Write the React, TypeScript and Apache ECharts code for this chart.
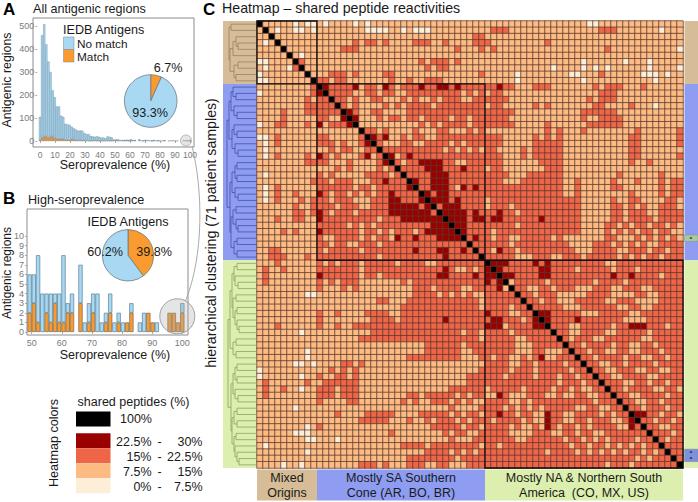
import React, { useEffect, useRef } from "react";
import * as echarts from "echarts";

const FONT = "Liberation Sans";

// Panel A: histogram by seroprevalence bin (k/71 of the patients)
const allTotal = [105,460,508,420,345,300,220,190,150,150,110,105,75,72,70,62,55,50,45,45,45,35,30,30,22,20,18,20,18,15,15,12,20,18,15,6,6,8,4,4,4,4,4,8,3,4,0,7,1,3,4,4,1,2,4,1,2,1,1,3,0,1,2,2,1,1,0,0,2,2,1,3];
const allMatch = [5,15,20,20,15,20,20,12,8,8,8,8,6,5,3,8,6,3,2,3,1,3,2,1,1,1,2,1,1,1,1,1,2,1,1,2,3,1,0,2,1,3,1,1,2,2,0,3,0,1,2,0,0,1,2,0,1,0,1,2,0,0,0,2,1,0,0,0,2,2,1,2];
const highFirstBin = 35;
const pieA = [{ name: "Match", value: 6.7 }, { name: "No match", value: 93.3 }];
const pieB = [{ name: "Match", value: 39.8 }, { name: "No match", value: 60.2 }];

// Panel C: shared-peptide class per sample pair, listed as column runs per row
const redRuns = [
"", "39-41,57-59", "36,37", "16,18,19,21,26-28,31,36-38,48", "14-16,33,37,39,58", "", "7,27,29-31,33", "28,30,31", "12-14,16,21,22,37,57", "10,11,13,14,22,25,28-30",
"12-15,18,19,22,24-26,28,29,32,34-39,41,46-48,56,58-60,64",
"12-15,18,19,21,22,25-33,35,37,39,40,57-59",
"13,14,16,19,20,24,26,29,31-33,36-41,55,57-59",
"14,16,21,23,25-28,30-37,39,40,46,48,56,57,62",
"16,19,20,25-37,39-42,54,56-59",
"20,22,23,25,26,28-31,33,34,36-41,54,58-60",
"27,29,31-34,36-42,48,55-60",
"18,19,21,26,30,31,35,37,48,50,54,70",
"20,24,26,27,30-40,46,48,50,62,63,70",
"20,24,25,28-31,33,35-40,46,48-50,62,63,70",
"21-30,32,34,36,38,39,44,46-50,62,63",
"24,26-40,44,46-50,62,63,70",
"23,25,26,31,32,35-39,47-50,62,65",
"24-27,31-33,35-37,39,40,48-50",
"25-28,32-41,45-50,60,67",
"27,28,32-40,44-50,53,59,63,69,70",
"27,28,32,35,37-39,41,42,45-50,53,59,60,67,70",
"29,32-37,40-43,45-50,53,62,67,69,70",
"32,34-37,41-53,59,62,63,68,69",
"30,34-37,43-53,59,60,62,64,67,68",
"35,37-39,41,44-53,59,60,62-64,67-70",
"35,38,41-53,59,60,62,63,65,67-70",
"33-42,45,47-51,58,59,61,63,64,66,67,69",
"34-38,40-42,45,47,48,50,58,60,62,64,65,67,68",
"35,37", "36,37", "37", "",
"3,12,14,15,18,19,22,24-27,30,31,34-37,42-45,47,49-57,60-70",
"1,4,10-16,18,19,21-30,35,37,41-46,49-52,54-58,60-62,64-70",
"1,10-16,18,19,21-29,32-37,43-46,49-58,60,61,63-66,68-70",
"1,10,12,14-16,24,26,28-32,34-37,43-47,49-55,57-60,62-70",
"10,14,26,27,30,31,36,37,43,44,47,48,50-52,56-58,61-63,66-70",
"26,27,31,33,35,44,45,47-49,55-58,63,64,67-70",
"21,25-36,45,46,48,49,53-57,60-62,67-70",
"24-26,28-36,46-50,54-59,62,63,66-70",
"10,13,18-21,24-38,49-53,57-61,64-70",
"10,19,24-37,49-52,54-60,65-70",
"3,10,13,16-19,22,24-37,49-51,54-58,60,61,65-67,69,70",
"19-22,24-33,35,36,50,51,54-57,60-64,66-70",
"17-36,51,53-55,58-63,66-70",
"28-33,35-37,52,53,55-58,60,61,64,65,67-70",
"28-33,36,37,53,54,56,57,60,61,64-66,68-70",
"25,26,28-33,37,54,55,57-60,62,63,66,67,69,70",
"14,15,17,55,56,59,60,62-65,67-70",
"12,14,37,56,57,60-62,65,66,69,70",
"10,13,14,16,35-37,57,58,61-64,67-70",
"8,11-16,35-37,58-60,63,64,66,67,69,70",
"1,4,10-12,14-16,32-37,59,60,62-65,68,69",
"1,10-12,14-16,25,26,29-32,34,36,37,60,61,64-67,69,70",
"10,15,16,24,26,29-31,35,61,62,65,66,68-70",
"37,62,63,65-67,69,70",
"13,18,19,21,22,27,28,30,31,35,36,65,66,68,69",
"17-19,21,25,28,30,31,34,36,37,64,65,67,68,70",
"10,30,31,35,36,65,66,69,70",
"22,34,37,66-68,70",
"36,37,67,69,70",
"24,25,27,30,34-36,68-70",
"29,35,37,69,70",
"25,26,28-31,34-37,70",
"17-19,21,25,31,35-37",
];
const darkRows = [10,14,15,18,21,22,23,24,25,26,27,28,29,30,31,32,33,34,36,38,39,40,46,47,48,62];
const darkRuns = ["11,16,21,27,30,31,33,40","15","16","19,21","22,25","27-30","28-30,34","29-31","26,29-31","29-31,34,36","28,30,31","29-31,33","31-33","31-34,36,40","32-34,36,37,39,40,47","33,34","34","36","40","39-41,46,48","40,47,48","41,42,47,48,59,62","47,48","48,53","62-64","63,64"];
const paleRows = [0,1,4,5,6,7,8,9,13];
const paleRuns = ["6,8,9,11,16,18,55,56","3,6,7,9,18-21,24,26-28,67","70","7","54,61,65","5,49,54,56,58,65,70","43,52,53,64-66,68","43,54,66","66"];

const sampleCount = 71;
const clusterEnds = [0, 10, 38, 71];
const classColors = ["#fdeed8", "#fdbb84", "#ef6548", "#990000", "#000000"];
const clusterFill = ["#d6bd97", "#8e9df2", "#dcefae"];
const clusterLine = ["#8f7a58", "#3a4799", "#7f9a58"];
const clusterNames = [["Mixed", "Origins"], ["Mostly SA Southern", "Cone (AR, BO, BR)"], ["Mostly NA & Northern South", "America  (CO, MX, US)"]];
const tanTree: any = [229, [231, 0, 1], [230, [233, [236, 2, [238, 3, 4]], 5], [234, [238, 6, 7], [236, 8, 9]]]];
const blueTree: any = [227, [229, [231, [233, 10, [236, 11, 12]], [234, 13, [237, 14, 15]]], [232, [234, 16, [237, 17, 18]], [235, 19, [238, 20, 21]]]], [230, [232, [235, [237, 22, 23], [237, 24, 25]], [235, 26, [238, 27, 28]]], [231, [233, [236, 29, 30], [236, 31, [238, 32, 33]]], [234, [237, 34, 35], [237, 36, 37]]]]];
const greenTree: any = [228, [230, [232, [234, [237, 38, 39], [235, 40, [238, 41, 42]]], [233, [236, 43, 44], [235, [237, 45, 46], [237, 47, [239, 48, 49]]]]], [233, [236, 50, 51], [236, 52, 53]]], [231, [233, [235, [237, 54, 55], [237, 56, 57]], [235, 58, [238, 59, 60]]], [232, [234, [237, 61, 62], [237, 63, 64]], [234, [236, 65, 66], [235, 67, [237, 68, [239, 69, 70]]]]]]];

const HX = 257, HY = 21, HW = 426, HH = 447;
const cellW = HW / sampleCount, cellH = HH / sampleCount;

function parseRuns(s: string): number[] {
  const out: number[] = [];
  if (!s) return out;
  s.split(",").forEach((p) => {
    const [a, b] = p.split("-").map(Number);
    for (let i = a; i <= (b === undefined ? a : b); i++) out.push(i);
  });
  return out;
}

function buildHeat() {
  const m: number[][] = Array.from({ length: sampleCount }, () => new Array(sampleCount).fill(1));
  const put = (r: number, c: number, v: number) => { m[r][c] = v; m[c][r] = v; };
  redRuns.forEach((s, r) => parseRuns(s).forEach((c) => put(r, c, 2)));
  darkRows.forEach((r, i) => parseRuns(darkRuns[i]).forEach((c) => put(r, c, 3)));
  paleRows.forEach((r, i) => parseRuns(paleRuns[i]).forEach((c) => put(r, c, 0)));
  for (let i = 0; i < sampleCount; i++) m[i][i] = 4;
  const data: number[][] = [];
  m.forEach((row, r) => row.forEach((v, c) => data.push([c, r, v])));
  return data;
}

function treeLines(node: any, color: string, out: any[]): { x: number; y: number } {
  if (typeof node === "number") return { x: HX, y: HY + (node + 0.5) * cellH };
  const [x, a, b] = node;
  const pa = treeLines(a, color, out), pb = treeLines(b, color, out);
  const seg = (x1: number, y1: number, x2: number, y2: number) =>
    out.push({ type: "line", silent: true, z: 20, shape: { x1, y1, x2, y2 }, style: { stroke: color, lineWidth: 0.7 } });
  seg(x, pa.y, x, pb.y);
  seg(x, pa.y, pa.x, pa.y);
  seg(x, pb.y, pb.x, pb.y);
  return { x, y: (pa.y + pb.y) / 2 };
}

function txt(text: string, x: number, y: number, size: number, extra: any = {}) {
  const { rotation, align, fill, weight } = extra;
  return {
    type: "text", x, y, rotation: rotation || 0, z: 60, silent: true,
    style: { text, fontSize: size, fontFamily: FONT, fill: fill || "#1a1a1a", fontWeight: weight || "normal", textAlign: align || "left", textVerticalAlign: "middle" },
  };
}

function buildGraphics() {
  const g: any[] = [];
  const box = (x: number, y: number, w: number, h: number, stroke: string, lw = 1, z = 1, fill = "none") =>
    g.push({ type: "rect", z, silent: true, shape: { x, y, width: w, height: h }, style: { fill, stroke, lineWidth: lw } });
  box(33, 18, 161, 129, "#8c8c8c");
  box(27, 209, 161, 126, "#8c8c8c");

  clusterEnds.slice(0, 3).forEach((start, i) => {
    const end = clusterEnds[i + 1];
    const y = HY + start * cellH, h = (end - start) * cellH;
    const x = HX + start * cellW, w = (end - start) * cellW;
    g.push({ type: "rect", z: 2, silent: true, shape: { x: 223, y, width: 34, height: h }, style: { fill: clusterFill[i] } });
    g.push({ type: "rect", z: 2, silent: true, shape: { x: 684.5, y, width: 13.5, height: h }, style: { fill: clusterFill[i] } });
    g.push({ type: "rect", z: 2, silent: true, shape: { x, y: 469.5, width: w, height: 31 }, style: { fill: clusterFill[i] } });
    g.push({ type: "rect", z: 30, silent: true, shape: { x, y, width: w, height: h }, style: { fill: "none", stroke: "#111", lineWidth: 1.3 } });
    g.push(txt(clusterNames[i][0], x + w / 2, 477.5, 12.5, { align: "center" }));
    g.push(txt(clusterNames[i][1], x + w / 2, 492.5, 12.5, { align: "center" }));
  });
  [[34, 1, "#a9c9a0"], [68, 2, "#7f8fe0"]].forEach(([row, n, color]: any) => {
    g.push({ type: "rect", z: 3, silent: true, shape: { x: 684.5, y: HY + row * cellH, width: 13.5, height: n * cellH }, style: { fill: color, stroke: "#7a8a7a", lineWidth: 0.4 } });
    for (let k = 0; k < n; k++) g.push(txt("*", 691, HY + (row + k + 0.6) * cellH, 6, { align: "center", fill: "#111", weight: "bold" }));
  });
  [tanTree, blueTree, greenTree].forEach((t, i) => treeLines(t, clusterLine[i], g));

  g.push(txt("A", 3, 9.5, 17, { weight: "bold", fill: "#000" }));
  g.push(txt("B", 3, 198, 17, { weight: "bold", fill: "#000" }));
  g.push(txt("C", 203, 9.5, 17, { weight: "bold", fill: "#000" }));
  g.push(txt("All antigenic regions", 33, 8.5, 12.6));
  g.push(txt("High-seroprevalence", 28, 200, 12.6));
  g.push(txt("Heatmap \u2013 shared peptide reactivities", 222, 8, 14.2));
  g.push(txt("hierarchical clustering (71 patient samples)", 211, 233, 14.2, { rotation: Math.PI / 2, align: "center" }));

  const rot = Math.PI / 2;
  g.push(txt("Antigenic regions", 7, 80, 12.4, { rotation: rot, align: "center" }));
  g.push(txt("Antigenic regions", 7, 273, 12, { rotation: rot, align: "center" }));
  g.push(txt("Seroprevalence (%)", 115, 165, 12.5, { align: "center" }));
  g.push(txt("Seroprevalence (%)", 115, 355, 12.5, { align: "center" }));

  g.push(txt("IEDB Antigens", 63, 29.5, 12.6));
  g.push({ type: "rect", z: 50, silent: true, shape: { x: 63.5, y: 37, width: 10.5, height: 12.5 }, style: { fill: "#a8d8f2", stroke: "#6f8b9c", lineWidth: 0.5 } });
  g.push({ type: "rect", z: 50, silent: true, shape: { x: 63.5, y: 49.5, width: 10.5, height: 12.5 }, style: { fill: "#fb9a2f", stroke: "#6f8b9c", lineWidth: 0.5 } });
  g.push(txt("No match", 77, 44, 11.8));
  g.push(txt("Match", 77, 57, 11.8));
  g.push(txt("6.7%", 168, 67.5, 12.6, { align: "center" }));
  g.push(txt("93.3%", 150, 113, 12.6, { align: "center" }));
  g.push(txt("IEDB Antigens", 128, 222, 12.6, { align: "center" }));
  g.push(txt("60.2%", 105, 252, 12.6, { align: "center" }));
  g.push(txt("39.8%", 154, 252, 12.6, { align: "center" }));

  g.push({ type: "circle", z: 40, silent: true, shape: { cx: 186, cy: 140.5, r: 5.5 }, style: { fill: "rgba(170,170,170,0.3)", stroke: "#a8a8a8", lineWidth: 0.8 } });
  g.push({ type: "circle", z: 40, silent: true, shape: { cx: 177.3, cy: 316.3, r: 17.5 }, style: { fill: "rgba(170,170,170,0.3)", stroke: "#a0a0a0", lineWidth: 1 } });
  g.push({ type: "bezierCurve", z: 40, silent: true, shape: { x1: 192, y1: 146, cpx1: 203, cpy1: 190, cpx2: 204, cpy2: 255, x2: 185.5, y2: 301 }, style: { fill: "none", stroke: "#a0a0a0", lineWidth: 0.9 } });

  g.push(txt("Heatmap colors", 54, 443, 12.6, { rotation: rot, align: "center" }));
  g.push(txt("shared peptides (%)", 133.5, 402, 12.5, { align: "center" }));
  const keyTop = [433.3, 448.3, 463.3, 478.3];
  const keyColors = [classColors[3], classColors[2], classColors[1], classColors[0]];
  const keyLeft = ["22.5%", "15%", "7.5%", "0%"];
  const keyRight = ["30%", "22.5%", "15%", "7.5%"];
  g.push({ type: "rect", z: 50, silent: true, shape: { x: 76, y: 411.5, width: 34.5, height: 15 }, style: { fill: "#000" } });
  g.push(txt("100%", 120, 419, 12.5));
  keyTop.forEach((y, i) => {
    g.push({ type: "rect", z: 50, silent: true, shape: { x: 76, y, width: 34.5, height: 15 }, style: { fill: keyColors[i] } });
    g.push(txt(keyLeft[i], 151.5, y + 8.5, 12.5, { align: "right" }));
    g.push(txt("-", 159.5, y + 8.5, 12.5, { align: "center" }));
    g.push(txt(keyRight[i], 202.5, y + 8.5, 12.5, { align: "right" }));
  });
  return g;
}

function histSeries(total: number[], match: number[], first: number, ax: number, bw: number, w: number) {
  const idx = total.map((_, i) => i).filter((i) => i >= first);
  const common = { type: "bar", xAxisIndex: ax, yAxisIndex: ax, barWidth: w, barCategoryGap: 0, barGap: 0, stack: "s" + ax, silent: true, clip: false, barMinWidth: w };
  const val = (v: number) => (v > 0 ? v : null);
  return [
    { ...common, data: idx.map((i) => val(match[i])), itemStyle: { color: "#fb9a2f", borderColor: "#6f6a5c", borderWidth: bw } },
    { ...common, data: idx.map((i) => val(total[i] - match[i])), itemStyle: { color: "#a8d8f2", borderColor: "#5a7f95", borderWidth: bw } },
  ];
}

function buildAxes() {
  const tick = { show: true, length: 2, lineStyle: { color: "#8c8c8c", width: 0.7 } };
  const label = { color: "#7a7a7a", fontSize: 9, fontFamily: FONT, margin: 3 };
  const quiet = { splitLine: { show: false }, axisLine: { show: false }, axisTick: tick, axisLabel: label };
  const binCats = (first: number) => allTotal.map((_, i) => i).filter((i) => i >= first);
  const xAxis: any[] = [
    { type: "category", gridIndex: 0, show: false, data: binCats(0) },
    { type: "category", gridIndex: 1, show: false, data: binCats(highFirstBin) },
    { type: "category", gridIndex: 2, show: false, data: Array.from({ length: sampleCount }, (_, i) => i) },
    { type: "value", gridIndex: 3, min: 0, max: 100, interval: 10, offset: 6, ...quiet, axisLabel: { ...label, fontSize: 8.5 } },
    { type: "value", gridIndex: 4, min: 50, max: 100, interval: 10, offset: 3, ...quiet },
  ];
  const yAxis: any[] = [
    { type: "value", gridIndex: 0, min: 0, max: 500, interval: 100, offset: 1.7, ...quiet },
    { type: "value", gridIndex: 1, min: 0, max: 10, interval: 1, offset: 0.5, ...quiet },
    { type: "category", gridIndex: 2, show: false, inverse: true, data: Array.from({ length: sampleCount }, (_, i) => i) },
    { type: "value", gridIndex: 3, show: false, min: 0, max: 1 },
    { type: "value", gridIndex: 4, show: false, min: 0, max: 1 },
  ];
  return { xAxis, yAxis };
}

export default function App() {
  const ref = useRef<HTMLDivElement>(null);
  useEffect(() => {
    document.body.style.margin = "0";
    const chart = echarts.init(ref.current!, undefined, { renderer: "svg", width: 698, height: 502 });
    const { xAxis, yAxis } = buildAxes();
    const pieStyle = (center: number[], r: number, data: any[]) => ({
      type: "pie", center, radius: r, startAngle: 90, silent: true, label: { show: false }, labelLine: { show: false }, z: 10,
      data: data.map((d) => ({ ...d, itemStyle: { color: d.name === "Match" ? "#fb9a2f" : "#a8d8f2", borderColor: "#6e7a80", borderWidth: 0.8 } })),
    });
    const wA = 150 / 71, wB = (150.6 / 50) * (100 / 71);
    chart.setOption({
      animation: false,
      backgroundColor: "#fff",
      textStyle: { fontFamily: FONT },
      grid: [
        { left: 40 - wA / 2, top: 26, width: 72 * wA, height: 115 },
        { left: 31.7 + (((highFirstBin * 100) / 71 - 50) * 150.6) / 50 - wB / 2, top: 236, width: 37 * wB, height: 96 },
        { left: HX, top: HY, width: HW, height: HH },
        { left: 40, top: 26, width: 150, height: 115 },
        { left: 31.7, top: 236, width: 150.6, height: 96 },
      ],
      xAxis, yAxis,
      visualMap: {
        show: false, type: "piecewise", seriesIndex: 4, dimension: 2,
        pieces: classColors.map((color, value) => ({ value, color })),
      },
      series: [
        ...histSeries(allTotal, allMatch, 0, 0, 0.4, wA),
        ...histSeries(allTotal, allMatch, highFirstBin, 1, 0.7, wB),
        { type: "heatmap", xAxisIndex: 2, yAxisIndex: 2, data: buildHeat(), silent: true, itemStyle: { borderColor: "#5b3a2e", borderWidth: 0.75 }, emphasis: { disabled: true } },
        pieStyle([150.7, 101], 26.3, pieA),
        pieStyle([128, 255.3], 25.7, pieB),
      ],
      graphic: { elements: buildGraphics() },
    });
    return () => chart.dispose();
  }, []);
  return <div ref={ref} style={{ position: "fixed", left: 0, top: 0, width: 698, height: 502 }} />;
}
